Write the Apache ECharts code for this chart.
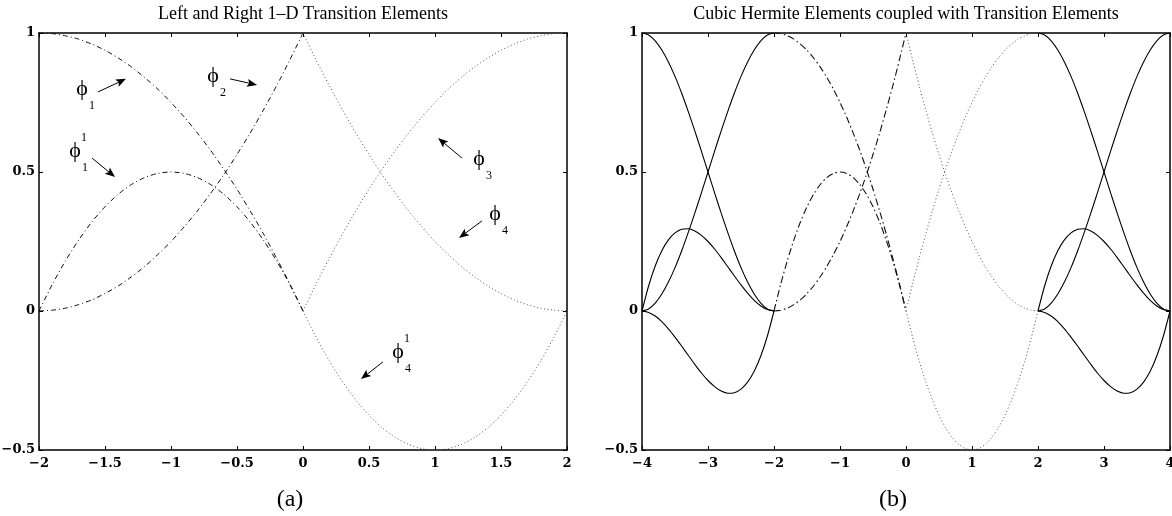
<!DOCTYPE html>
<html>
<head>
<meta charset="utf-8">
<title>Transition Elements</title>
<script src="https://cdn.jsdelivr.net/npm/echarts@6/dist/echarts.min.js"></script>
<style>
    html, body { margin: 0; padding: 0; background: #fff; }
    #main { width: 1172px; height: 516px; }
</style>
</head>
<body>
<div id="main"></div>
<script>
(function () {
    'use strict';

    // sample positions along x for each element
    var xLeftHalf  = [-2, -1.9, -1.8, -1.7, -1.6, -1.5, -1.4, -1.3, -1.2, -1.1, -1,
                      -0.9, -0.8, -0.7, -0.6, -0.5, -0.4, -0.3, -0.2, -0.1, 0];
    var xRightHalf = [0, 0.1, 0.2, 0.3, 0.4, 0.5, 0.6, 0.7, 0.8, 0.9, 1,
                      1.1, 1.2, 1.3, 1.4, 1.5, 1.6, 1.7, 1.8, 1.9, 2];
    var xHermLeft  = [-4, -3.9, -3.8, -3.7, -3.6, -3.5, -3.4, -3.3, -3.2, -3.1, -3,
                      -2.9, -2.8, -2.7, -2.6, -2.5, -2.4, -2.3, -2.2, -2.1, -2];
    var xHermRight = [2, 2.1, 2.2, 2.3, 2.4, 2.5, 2.6, 2.7, 2.8, 2.9, 3,
                      3.1, 3.2, 3.3, 3.4, 3.5, 3.6, 3.7, 3.8, 3.9, 4];

    // transition elements
    var phi1  = [1, 0.998, 0.99, 0.978, 0.96, 0.938, 0.91, 0.878, 0.84, 0.798, 0.75,
                 0.698, 0.64, 0.578, 0.51, 0.438, 0.36, 0.278, 0.19, 0.098, 0];
    var phi2  = [0, 0.003, 0.01, 0.023, 0.04, 0.063, 0.09, 0.123, 0.16, 0.203, 0.25,
                 0.303, 0.36, 0.423, 0.49, 0.563, 0.64, 0.723, 0.81, 0.903, 1];
    var phi11 = [0, 0.095, 0.18, 0.255, 0.32, 0.375, 0.42, 0.455, 0.48, 0.495, 0.5,
                 0.495, 0.48, 0.455, 0.42, 0.375, 0.32, 0.255, 0.18, 0.095, 0];
    var phi3  = [1, 0.903, 0.81, 0.723, 0.64, 0.563, 0.49, 0.423, 0.36, 0.303, 0.25,
                 0.203, 0.16, 0.123, 0.09, 0.063, 0.04, 0.023, 0.01, 0.003, 0];
    var phi4  = [0, 0.098, 0.19, 0.278, 0.36, 0.438, 0.51, 0.578, 0.64, 0.698, 0.75,
                 0.798, 0.84, 0.878, 0.91, 0.938, 0.96, 0.978, 0.99, 0.998, 1];
    var phi41 = [0, -0.095, -0.18, -0.255, -0.32, -0.375, -0.42, -0.455, -0.48, -0.495, -0.5,
                 -0.495, -0.48, -0.455, -0.42, -0.375, -0.32, -0.255, -0.18, -0.095, 0];

    // cubic hermite elements (panel b, both ends)
    var herm1 = [1, 0.993, 0.972, 0.939, 0.896, 0.844, 0.784, 0.718, 0.648, 0.575, 0.5,
                 0.425, 0.352, 0.282, 0.216, 0.156, 0.104, 0.061, 0.028, 0.007, 0];
    var herm2 = [0, 0.007, 0.028, 0.061, 0.104, 0.156, 0.216, 0.282, 0.352, 0.425, 0.5,
                 0.575, 0.648, 0.718, 0.784, 0.844, 0.896, 0.939, 0.972, 0.993, 1];
    var herm3 = [0, 0.09, 0.162, 0.217, 0.256, 0.281, 0.294, 0.296, 0.288, 0.272, 0.25,
                 0.223, 0.192, 0.159, 0.126, 0.094, 0.064, 0.038, 0.018, 0.005, 0];
    var herm4 = [0, -0.005, -0.018, -0.038, -0.064, -0.094, -0.126, -0.159, -0.192, -0.223, -0.25,
                 -0.272, -0.288, -0.296, -0.294, -0.281, -0.256, -0.217, -0.162, -0.09, 0];

    // axis ranges and tick steps
    var xRangeA = [-2, 2], xStepA = 0.5;
    var xRangeB = [-4, 4], xStepB = 1;
    var yRange  = [-0.5, 1], yStep = 0.5;

    var titles = ['Left and Right 1\u2013D Transition Elements',
                  'Cubic Hermite Elements coupled with Transition Elements'];
    var captions = ['(a)', '(b)'];

    // phi labels with arrows, panel a (data coords)
    var notesA = [
        {sub: '1', sup: '',  at: [-1.674, 0.795],  from: [-1.553, 0.788],  to: [-1.341, 0.835]},
        {sub: '2', sup: '',  at: [-0.682, 0.842],  from: [-0.553, 0.835],  to: [-0.348, 0.813]},
        {sub: '1', sup: '1', at: [-1.727, 0.572],  from: [-1.598, 0.550],  to: [-1.424, 0.482]},
        {sub: '3', sup: '',  at: [1.333, 0.543],   from: [1.205, 0.550],   to: [1.023, 0.622]},
        {sub: '4', sup: '',  at: [1.455, 0.345],   from: [1.356, 0.324],   to: [1.182, 0.263]},
        {sub: '4', sup: '1', at: [0.720, -0.151],  from: [0.606, -0.183],  to: [0.439, -0.245]}
    ];

    var solid    = {color: '#000', width: 1.1, type: 'solid'};
    var dashDot  = {color: '#111', width: 1, type: [5, 3, 1, 3]};
    var dashDotB = {color: '#111', width: 1.1, type: [7, 3, 1.5, 3]};
    var dotted   = {color: '#555', width: 1, type: [1, 2.5]};

    var serif = '"Liberation Serif", "DejaVu Serif", serif';

    function pairs(xs, ys) {
        return xs.map(function (x, i) { return [x, ys[i]]; });
    }

    function curve(g, xs, ys, style) {
        return {
            type: 'line', xAxisIndex: g * 2, yAxisIndex: g * 2,
            data: pairs(xs, ys), smooth: 0.25, symbol: 'none', showSymbol: false,
            lineStyle: style, silent: true, animation: false
        };
    }

    function minusFmt(v) {
        return String(v).replace('-', '\u2212');
    }

    var tickFont = {color: '#000', fontFamily: '"DejaVu Serif", serif', fontWeight: 'bold', fontSize: 13};

    function xAxis(g, range, step, pos) {
        var bottom = pos === 'bottom';
        return {
            type: 'value', gridIndex: g, position: pos, min: range[0], max: range[1], interval: step,
            axisLine: {show: true, onZero: false, lineStyle: {color: '#000', width: 1.5}},
            axisTick: {show: true, inside: true, length: 4, lineStyle: {color: '#000'}},
            axisLabel: Object.assign({show: bottom, margin: 7, formatter: minusFmt}, tickFont),
            splitLine: {show: false}
        };
    }

    function yAxis(g, pos) {
        var left = pos === 'left';
        return {
            type: 'value', gridIndex: g, position: pos, min: yRange[0], max: yRange[1], interval: yStep,
            axisLine: {show: true, onZero: false, lineStyle: {color: '#000', width: 1.5}},
            axisTick: {show: true, inside: true, length: 4, lineStyle: {color: '#000'}},
            axisLabel: Object.assign({show: left, margin: 4, formatter: minusFmt}, tickFont),
            splitLine: {show: false}
        };
    }

    var series = [
        // panel a
        curve(0, xLeftHalf, phi1, dashDot),
        curve(0, xLeftHalf, phi2, dashDot),
        curve(0, xLeftHalf, phi11, dashDot),
        curve(0, xRightHalf, phi3, dotted),
        curve(0, xRightHalf, phi4, dotted),
        curve(0, xRightHalf, phi41, dotted),
        // panel b
        curve(1, xHermLeft, herm1, solid),
        curve(1, xHermLeft, herm2, solid),
        curve(1, xHermLeft, herm3, solid),
        curve(1, xHermLeft, herm4, solid),
        curve(1, xLeftHalf, phi1, dashDotB),
        curve(1, xLeftHalf, phi2, dashDotB),
        curve(1, xLeftHalf, phi11, dashDotB),
        curve(1, xRightHalf, phi3, dotted),
        curve(1, xRightHalf, phi4, dotted),
        curve(1, xRightHalf, phi41, dotted),
        curve(1, xHermRight, herm1, solid),
        curve(1, xHermRight, herm2, solid),
        curve(1, xHermRight, herm3, solid),
        curve(1, xHermRight, herm4, solid)
    ];

    var chart = echarts.init(document.getElementById('main'), null, {renderer: 'canvas'});
    chart.setOption({
        backgroundColor: '#fff',
        animation: false,
        grid: [
            {left: 39, top: 33, width: 528, height: 417, outerBoundsMode: 'none'},
            {left: 642, top: 33, width: 528, height: 417, outerBoundsMode: 'none'}
        ],
        xAxis: [
            xAxis(0, xRangeA, xStepA, 'bottom'), xAxis(0, xRangeA, xStepA, 'top'),
            xAxis(1, xRangeB, xStepB, 'bottom'), xAxis(1, xRangeB, xStepB, 'top')
        ],
        yAxis: [
            yAxis(0, 'left'), yAxis(0, 'right'),
            yAxis(1, 'left'), yAxis(1, 'right')
        ],
        series: series
    });

    // titles, captions and the phi annotations
    var gfx = [];
    [0, 1].forEach(function (g) {
        var rect = chart.getModel().getComponent('grid', g).coordinateSystem.getRect();
        var cx = rect.x + rect.width / 2;
        gfx.push({type: 'text', x: cx, y: 14, silent: true,
            style: {text: titles[g], font: '18px ' + serif, fill: '#000', align: 'center', verticalAlign: 'middle'}});
        gfx.push({type: 'text', x: cx - 13, y: 500, silent: true,
            style: {text: captions[g], font: '24px ' + serif, fill: '#000', align: 'center', verticalAlign: 'middle'}});
    });

    notesA.forEach(function (n) {
        var p = chart.convertToPixel({gridIndex: 0}, n.at);
        var a = chart.convertToPixel({gridIndex: 0}, n.from);
        var b = chart.convertToPixel({gridIndex: 0}, n.to);
        gfx.push({type: 'text', x: p[0], y: p[1] - 1, silent: true,
            style: {text: '\u03d5', font: '22px ' + serif, fill: '#000', align: 'center', verticalAlign: 'middle'}});
        gfx.push({type: 'text', x: p[0] + 10, y: p[1] + 16, silent: true,
            style: {text: n.sub, font: '12px ' + serif, fill: '#000', align: 'center', verticalAlign: 'middle'}});
        if (n.sup) {
            gfx.push({type: 'text', x: p[0] + 9, y: p[1] - 14, silent: true,
                style: {text: n.sup, font: '12px ' + serif, fill: '#000', align: 'center', verticalAlign: 'middle'}});
        }
        // arrow: shaft plus filled head
        var dx = b[0] - a[0], dy = b[1] - a[1];
        var len = Math.sqrt(dx * dx + dy * dy);
        var ux = dx / len, uy = dy / len;
        var hl = 10, hw = 4;
        var bx = b[0] - ux * hl, by = b[1] - uy * hl;
        var nx = -uy, ny = ux;
        gfx.push({type: 'line', silent: true,
            shape: {x1: a[0], y1: a[1], x2: bx + ux * 2, y2: by + uy * 2},
            style: {stroke: '#000', lineWidth: 1}});
        gfx.push({type: 'polygon', silent: true,
            shape: {points: [[b[0], b[1]], [bx + nx * hw, by + ny * hw], [bx + ux * 2, by + uy * 2], [bx - nx * hw, by - ny * hw]]},
            style: {fill: '#000'}});
    });

    chart.setOption({graphic: gfx});
})();
</script>
</body>
</html>
